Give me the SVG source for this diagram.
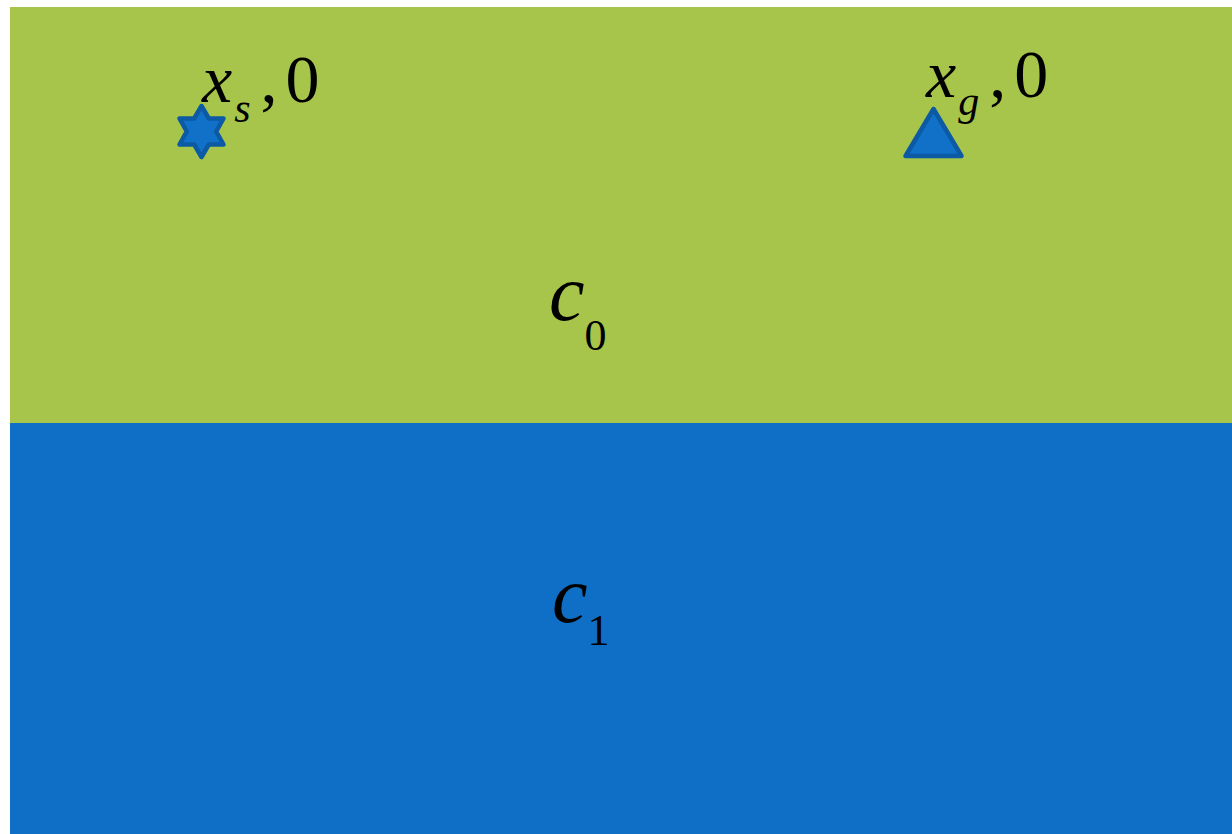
<svg xmlns="http://www.w3.org/2000/svg" width="1232" height="834" viewBox="0 0 1232 834">
  <style>
    text { font-family: 'Liberation Serif', 'DejaVu Serif', serif; fill: #000000; }
    .it { font-style: italic; }
    .mark { fill: #1170C8; stroke: #0B5AA3; stroke-width: 4.5; stroke-linejoin: round; }
  </style>
  <rect width="1232" height="834" fill="#ffffff"/>
  <g id="region-c0">
    <rect x="10" y="7" width="1222" height="416" fill="#A7C44B"/>
    <text x="549" y="320" font-size="80"><tspan class="it">c</tspan><tspan font-size="44" dx="0" dy="30">0</tspan></text>
  </g>
  <g id="region-c1">
    <rect x="10" y="423" width="1222" height="411" fill="#0F6FC6"/>
    <text x="552" y="622" font-size="80"><tspan class="it">c</tspan><tspan font-size="44" dx="0" dy="23">1</tspan></text>
  </g>
  <g id="start">
    <polygon class="mark" points="201.5,106 208.8,118.5 223.5,118.5 216.2,131.5 223.5,144.5 208.8,144.5 201.5,157 194.2,144.5 179.5,144.5 186.8,131.5 179.5,118.5 194.2,118.5"/>
    <text x="202" y="102" font-size="68"><tspan class="it">x</tspan><tspan class="it" font-size="42" dx="2" dy="20">s</tspan><tspan dx="10" dy="-20">,</tspan><tspan dx="8">0</tspan></text>
  </g>
  <g id="goal">
    <polygon class="mark" points="933.5,109 961.5,156 905.5,156"/>
    <text x="926" y="97" font-size="68"><tspan class="it">x</tspan><tspan class="it" font-size="42" dx="2" dy="18">g</tspan><tspan dx="10" dy="-18">,</tspan><tspan dx="8">0</tspan></text>
  </g>
  <g id="connectors"/>
</svg>
